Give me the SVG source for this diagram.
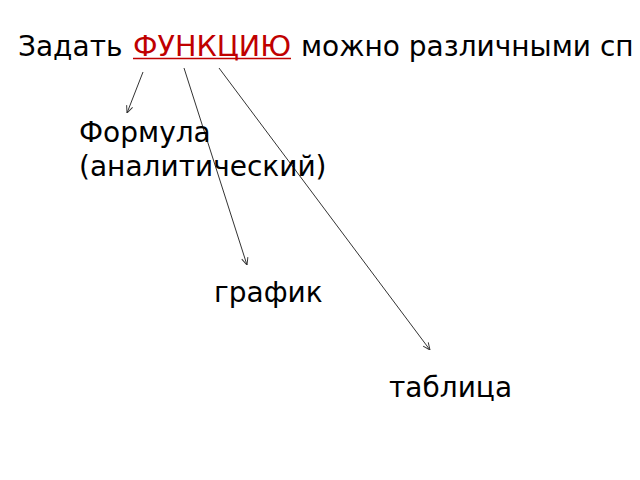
<svg xmlns="http://www.w3.org/2000/svg" width="640" height="480" viewBox="0 0 640 480">
<style>
text{font-family:"DejaVu Sans",sans-serif;font-size:28px;fill:#000}
.red{fill:#c00000}
.c{stroke:#333;stroke-width:1;fill:none;marker-end:url(#a)}
</style>
<defs>
<marker id="a" viewBox="0 0 10 10" refX="10" refY="5" markerWidth="8" markerHeight="8" orient="auto" markerUnits="userSpaceOnUse">
<path d="M1,1 L10,5 L1,9" fill="none" stroke="#333" stroke-width="1.2"/>
</marker>
</defs>
<rect width="640" height="480" fill="#fff"/>
<g id="title">
<text x="18" y="55.5">Задать</text>
<text x="133" y="55.5" class="red" textLength="158" lengthAdjust="spacingAndGlyphs">ФУНКЦИЮ</text>
<line x1="133" y1="58.5" x2="291" y2="58.5" stroke="#c00000" stroke-width="1.5"/>
<text x="301" y="55.5">можно различными сп</text>
</g>
<g id="connectors">
<line class="c" x1="143" y1="72" x2="127" y2="113"/>
<line class="c" x1="184" y1="68" x2="247" y2="265"/>
<line class="c" x1="219" y1="68" x2="430" y2="350"/>
</g>
<g id="formula">
<text x="79" y="142">Формула</text>
<text x="79" y="176">(аналитический)</text>
</g>
<g id="graph">
<text x="214" y="302">график</text>
</g>
<g id="table">
<text x="389" y="397">таблица</text>
</g>
</svg>
